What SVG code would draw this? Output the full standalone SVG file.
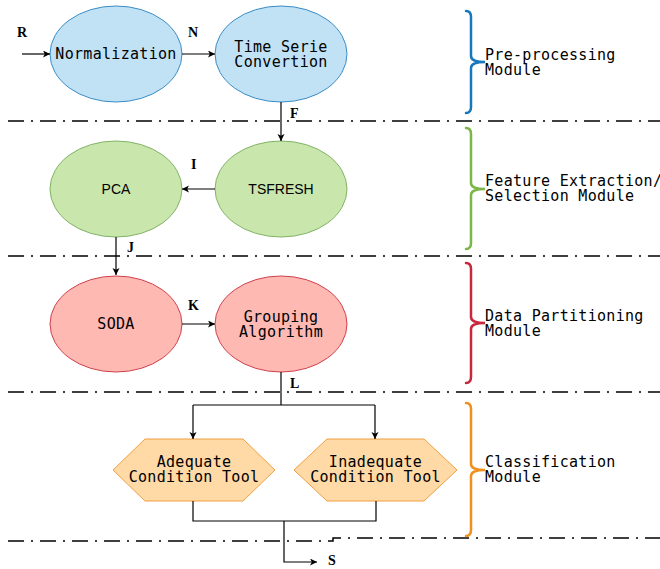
<svg xmlns="http://www.w3.org/2000/svg" width="660" height="569" viewBox="0 0 660 569">
<defs>
<marker id="arr" markerWidth="8" markerHeight="8" refX="7" refY="3.5" orient="auto" markerUnits="userSpaceOnUse">
<path d="M0,0 L7,3.5 L0,7 L1.8,3.5 Z" fill="#000"/>
</marker>
</defs>
<style>
.mono{font-family:"DejaVu Sans Mono",monospace;font-size:15px;letter-spacing:0.3px;fill:#000}
.sans{font-family:"Liberation Sans",Arial,sans-serif;font-size:14px;fill:#000}
.lbl{font-family:"Liberation Serif","Times New Roman",serif;font-weight:bold;font-size:14px;fill:#000}
.blue{fill:#c1e2f5;stroke:#3a8cc6;stroke-width:1}
.green{fill:#c9e6ac;stroke:#82b366;stroke-width:1}
.red{fill:#fdb9b2;stroke:#d0404e;stroke-width:1}
.orange{fill:#ffd9a6;stroke:#f0a040;stroke-width:1}
.conn{fill:none;stroke:#000;stroke-width:1.2}
.sep{fill:none;stroke:#000;stroke-width:1.5;stroke-dasharray:16 7 2 7}
.brace{fill:none;stroke-width:2.5;stroke-linecap:round}
</style>
<rect width="660" height="569" fill="#fff"/>

<g id="separators">
<line class="sep" x1="8" y1="121" x2="660" y2="121"/>
<line class="sep" x1="8" y1="256" x2="660" y2="256"/>
<line class="sep" x1="8" y1="392" x2="660" y2="392"/>
<path class="sep" d="M8,541 H333 V538 H660"/>
</g>

<g id="node-normalization">
<ellipse class="blue" cx="116" cy="54" rx="66" ry="48"/>
<text class="mono" x="116" y="59" text-anchor="middle">Normalization</text>
</g>
<g id="node-timeserie">
<ellipse class="blue" cx="281" cy="54" rx="66" ry="48"/>
<text class="mono" x="281" y="52" text-anchor="middle">Time Serie</text>
<text class="mono" x="281" y="67" text-anchor="middle">Convertion</text>
</g>
<g id="node-pca">
<ellipse class="green" cx="116" cy="189" rx="66" ry="48"/>
<text class="sans" x="116" y="194" text-anchor="middle">PCA</text>
</g>
<g id="node-tsfresh">
<ellipse class="green" cx="281" cy="189" rx="66" ry="48"/>
<text class="sans" x="281" y="194" text-anchor="middle">TSFRESH</text>
</g>
<g id="node-soda">
<ellipse class="red" cx="116" cy="324" rx="66" ry="48"/>
<text class="mono" x="116" y="329" text-anchor="middle">SODA</text>
</g>
<g id="node-grouping">
<ellipse class="red" cx="281" cy="324" rx="66" ry="48"/>
<text class="mono" x="281" y="322" text-anchor="middle">Grouping</text>
<text class="mono" x="281" y="337" text-anchor="middle">Algorithm</text>
</g>
<g id="node-adequate">
<polygon class="orange" points="113,470 145,439 243,439 275,470 243,501 145,501"/>
<text class="mono" x="194" y="467" text-anchor="middle">Adequate</text>
<text class="mono" x="194" y="482" text-anchor="middle">Condition Tool</text>
</g>
<g id="node-inadequate">
<polygon class="orange" points="294,470 327,439 424,439 457,470 424,501 327,501"/>
<text class="mono" x="375.5" y="467" text-anchor="middle">Inadequate</text>
<text class="mono" x="375.5" y="482" text-anchor="middle">Condition Tool</text>
</g>

<g id="connectors">
<line class="conn" x1="22" y1="54" x2="50" y2="54" marker-end="url(#arr)"/>
<line class="conn" x1="182" y1="54" x2="215" y2="54" marker-end="url(#arr)"/>
<line class="conn" x1="281" y1="102" x2="281" y2="141" marker-end="url(#arr)"/>
<line class="conn" x1="215" y1="189" x2="182" y2="189" marker-end="url(#arr)"/>
<line class="conn" x1="116" y1="237" x2="116" y2="275" marker-end="url(#arr)"/>
<line class="conn" x1="182" y1="324" x2="215" y2="324" marker-end="url(#arr)"/>
<path class="conn" d="M281,372 V405"/>
<path class="conn" d="M193,405 H375"/>
<path class="conn" d="M375,405 V439" marker-end="url(#arr)"/>
<path class="conn" d="M193,405 V439" marker-end="url(#arr)"/>
<path class="conn" d="M193,501 V521 H376 V501"/>
<path class="conn" d="M284,521 V562 H317" marker-end="url(#arr)"/>
<text class="lbl" x="17" y="37">R</text>
<text class="lbl" x="188" y="37">N</text>
<text class="lbl" x="290" y="118">F</text>
<text class="lbl" x="191" y="169">I</text>
<text class="lbl" x="127" y="252">J</text>
<text class="lbl" x="188" y="310">K</text>
<text class="lbl" x="290" y="388">L</text>
<text class="lbl" x="328" y="565">S</text>
</g>

<g id="module-preprocessing">
<path class="brace" stroke="#1877bd" d="M466,11 Q471,11 471,17 L471,56 Q471,62 485,62 Q471,62 471,68 L471,107 Q471,113 466,113"/>
<text class="mono" x="485" y="60">Pre-processing</text>
<text class="mono" x="485" y="75">Module</text>
</g>
<g id="module-feature">
<path class="brace" stroke="#7ab648" d="M466,128 Q471,128 471,134 L471,183 Q471,189 485,189 Q471,189 471,195 L471,243 Q471,249 466,249"/>
<text class="mono" x="485" y="186">Feature Extraction/</text>
<text class="mono" x="485" y="201">Selection Module</text>
</g>
<g id="module-partitioning">
<path class="brace" stroke="#c8283c" d="M466,263 Q471,263 471,269 L471,317 Q471,323 485,323 Q471,323 471,329 L471,377 Q471,383 466,383"/>
<text class="mono" x="485" y="321">Data Partitioning</text>
<text class="mono" x="485" y="336">Module</text>
</g>
<g id="module-classification">
<path class="brace" stroke="#f0901e" d="M466,403 Q471,403 471,409 L471,464 Q471,470 485,470 Q471,470 471,476 L471,530 Q471,536 466,536"/>
<text class="mono" x="485" y="467">Classification</text>
<text class="mono" x="485" y="482">Module</text>
</g>
</svg>
